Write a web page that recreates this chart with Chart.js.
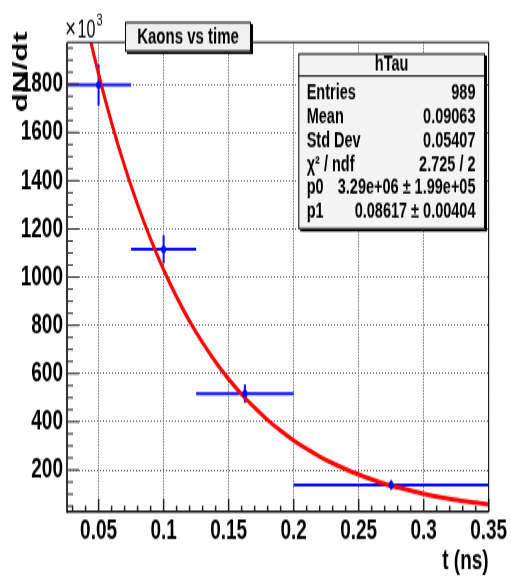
<!DOCTYPE html>
<html><head><meta charset="utf-8">
<script src="https://cdn.jsdelivr.net/npm/chart.js@4"></script>
<style>
html,body{margin:0;padding:0;background:#fff;overflow:hidden;}
#wrap{position:absolute;left:0;top:0;width:511px;height:387px;transform:scaleY(1.50129);transform-origin:0 0;}
canvas{display:block;width:511px;height:387px;}
</style></head><body>
<div id="wrap"><canvas id="c" width="511" height="387"></canvas></div>
<script>
// histogram hTau (dN/dt in units of 10^3)
const binCenters = [0.05, 0.1, 0.1625, 0.275];
const binLow     = [0.025, 0.075, 0.125, 0.2];
const binHigh    = [0.075, 0.125, 0.2, 0.35];
const counts     = [1797, 1115, 517, 138];
const countErr   = [85, 58, 38, 20];
// fitted exponential curve
const fitT = [0.04,0.05,0.06,0.07,0.08,0.09,0.10,0.11,0.12,0.13,0.14,0.15,0.16,0.17,0.18,0.19,0.20,0.21,0.22,0.23,0.24,0.25,0.26,0.27,0.28,0.29,0.30,0.31,0.32,0.33,0.34,0.35];
const fitY = [2068,1842,1640,1460,1300,1158,1031,918,817,728,648,577,514,458,407,363,323,288,256,228,203,181,161,143,128,114,101,90,80,71,64,57];
// axes
const xTicks = [0.05,0.1,0.15,0.2,0.25,0.3,0.35];
const xTickLabels = ['0.05','0.1','0.15','0.2','0.25','0.3','0.35'];
const yTicks = [200,400,600,800,1000,1200,1400,1600,1800];
const yTickLabels = ['200','400','600','800','1000','1200','1400','1600','1800'];
const xTitle = 't (ns)';
const yTitle = 'dN/dt';
// texts
const chartTitle = 'Kaons vs time';
const statsTitle = 'hTau';
const statsLabels = ['Entries','Mean','Std Dev','\u03c7\u00b2 / ndf','p0','p1'];
const statsValues = ['989','0.09063','0.05407','2.725 / 2','3.29e+06 \u00b1 1.99e+05','0.08617 \u00b1 0.00404'];

const FAM = '"Liberation Sans", Arial, Helvetica, sans-serif';
const BLUE = '#0a0aff';

const rootDecor = {
  id: 'rootDecor',
  beforeDatasetsDraw(chart) {
    const {ctx, chartArea: a, scales: {x, y}} = chart;
    ctx.save();
    ctx.beginPath(); ctx.rect(a.left, a.top, a.right - a.left, a.bottom - a.top); ctx.clip();
    ctx.strokeStyle = BLUE; ctx.lineWidth = 2;
    for (let i = 0; i < binCenters.length; i++) {
      const px = x.getPixelForValue(binCenters[i]);
      const py = y.getPixelForValue(counts[i]);
      ctx.beginPath();
      ctx.moveTo(x.getPixelForValue(binLow[i]), py);
      ctx.lineTo(x.getPixelForValue(binHigh[i]), py);
      ctx.moveTo(px, y.getPixelForValue(counts[i] + countErr[i]));
      ctx.lineTo(px, y.getPixelForValue(counts[i] - countErr[i]));
      ctx.stroke();
    }
    ctx.restore();
  },
  afterDraw(chart) {
    const {ctx, chartArea: a, scales: {x, y}} = chart;
    ctx.save();
    // inner tick marks
    ctx.strokeStyle = '#222';
    ctx.lineWidth = 1;
    for (let v = 50; v <= 1950; v += 50) {
      const py = y.getPixelForValue(v);
      if (py < a.top || py > a.bottom) continue;
      const len = (v % 200 === 0) ? 12 : 6;
      ctx.beginPath(); ctx.moveTo(a.left, py); ctx.lineTo(a.left + len, py); ctx.stroke();
    }
    ctx.lineWidth = 1.5;
    for (let k = 3; k <= 35; k++) {
      const px = x.getPixelForValue(k / 100);
      if (px < a.left || px > a.right) continue;
      const len = (k % 5 === 0) ? 8.5 : 4;
      ctx.beginPath(); ctx.moveTo(px, a.bottom); ctx.lineTo(px, a.bottom - len); ctx.stroke();
    }
    // frame
    ctx.strokeStyle = '#000';
    ctx.lineWidth = 1;
    ctx.beginPath(); ctx.moveTo(a.left, a.top); ctx.lineTo(a.right, a.top); ctx.lineTo(a.right, a.bottom); ctx.stroke();
    ctx.strokeStyle = '#333';
    ctx.lineWidth = 2;
    ctx.beginPath(); ctx.moveTo(a.left, a.top); ctx.lineTo(a.left, a.bottom + 0.7); ctx.stroke();
    ctx.strokeStyle = '#111';
    ctx.lineWidth = 1.4;
    ctx.beginPath(); ctx.moveTo(a.left, a.bottom); ctx.lineTo(a.right, a.bottom); ctx.stroke();

    // y axis title (ROOT style: right-adjusted at top)
    ctx.save();
    ctx.translate(26.5, 21.1);
    ctx.rotate(-Math.PI / 2);
    ctx.fillStyle = '#000';
    ctx.font = 'bold 21px ' + FAM;
    ctx.textAlign = 'right'; ctx.textBaseline = 'alphabetic';
    ctx.fillText(yTitle, 0, 0);
    ctx.restore();

    // title box
    const tb = {x: 125, y: 14.5, w: 126, h: 20};
    ctx.fillStyle = '#000';
    ctx.fillRect(tb.x + 2, tb.y + 1.5, tb.w, tb.h);
    ctx.fillStyle = '#f0f0f0';
    ctx.fillRect(tb.x, tb.y, tb.w, tb.h);
    ctx.strokeStyle = '#000'; ctx.lineWidth = 1;
    ctx.strokeRect(tb.x + 0.5, tb.y + 0.5, tb.w - 1, tb.h - 1);
    ctx.fillStyle = '#000';
    ctx.font = 'bold 15px ' + FAM;
    ctx.textAlign = 'center'; ctx.textBaseline = 'middle';
    ctx.fillText(chartTitle, tb.x + tb.w / 2, tb.y + tb.h / 2 + 0.5);

    // stats box
    const sb = {x: 298.3, y: 35.5, w: 186.7, h: 117.2};
    ctx.fillStyle = '#000';
    ctx.fillRect(sb.x + 2, sb.y + 1.5, sb.w, sb.h);
    ctx.fillStyle = '#f4f4f4';
    ctx.fillRect(sb.x, sb.y, sb.w, sb.h);
    ctx.strokeStyle = '#000'; ctx.lineWidth = 1;
    ctx.strokeRect(sb.x + 0.5, sb.y + 0.5, sb.w - 1, sb.h - 1);
    ctx.beginPath(); ctx.moveTo(sb.x, 50.6); ctx.lineTo(sb.x + sb.w, 50.6); ctx.stroke();
    ctx.fillStyle = '#000';
    ctx.font = 'bold 14.5px ' + FAM;
    ctx.textAlign = 'center';
    ctx.fillText(statsTitle, sb.x + sb.w / 2, 42.6);
    for (let i = 0; i < statsLabels.length; i++) {
      const ry = 62.4 + i * 15.76;
      ctx.textAlign = 'left';
      ctx.fillText(statsLabels[i], 306.7, ry);
      ctx.textAlign = 'right';
      ctx.fillText(statsValues[i], 475.5, ry);
    }

    // exponent label
    ctx.textAlign = 'left'; ctx.textBaseline = 'alphabetic';
    ctx.font = '19px ' + FAM;
    ctx.fillText('\u00d7', 65, 24.8);
    let w = ctx.measureText('\u00d7').width + 1.5;
    ctx.font = '16px ' + FAM;
    ctx.fillText('10', 65 + w, 24.8);
    w += ctx.measureText('10').width;
    ctx.font = '11px ' + FAM;
    ctx.fillText('3', 65 + w + 1, 16.7);
    ctx.restore();
  }
};

const tickFont = {family: FAM, size: 19, weight: 'bold'};

new Chart(document.getElementById('c'), {
  data: {
    datasets: [
      {
        type: 'scatter', label: statsTitle,
        data: binCenters.map((c, i) => ({x: c, y: counts[i]})),
        backgroundColor: BLUE, borderColor: BLUE, pointRadius: 2.6, pointBorderWidth: 0,
        order: 0
      },
      {
        type: 'line', label: 'fit',
        data: fitT.map((t, i) => ({x: t, y: fitY[i]})),
        borderColor: '#ff0000', borderWidth: 3, pointRadius: 0, fill: false,
        cubicInterpolationMode: 'monotone',
        order: 1
      }
    ]
  },
  options: {
    responsive: false,
    animation: false,
    events: [],
    layout: {padding: {left: 0, right: 22.3, top: 28.2, bottom: 0}},
    plugins: {legend: {display: false}, tooltip: {enabled: false}, title: {display: false}},
    scales: {
      x: {
        type: 'linear', position: 'bottom', min: 0.0257, max: 0.35,
        afterBuildTicks: s => { s.ticks = xTicks.map(v => ({value: v})); },
        afterFit: s => { s.height = 46.2; },
        grid: {color: '#555', lineWidth: 1, drawTicks: false},
        border: {display: false, dash: [1, 1]},
        ticks: {callback: (v, i) => xTickLabels[i], font: tickFont, color: '#000', padding: 2, maxRotation: 0, autoSkip: false},
        title: {display: true, text: xTitle, align: 'end', color: '#000', font: tickFont, padding: {top: 0, bottom: 2}}
      },
      y: {
        type: 'linear', position: 'left', min: 27, max: 1974,
        afterBuildTicks: s => { s.ticks = yTicks.map(v => ({value: v})); },
        afterFit: s => { s.width = 67; },
        grid: {color: '#555', lineWidth: 1, drawTicks: false},
        border: {display: false, dash: [1, 2]},
        ticks: {callback: (v, i) => yTickLabels[i], font: tickFont, color: '#000', padding: 4, autoSkip: false},
        title: {display: false}
      }
    }
  },
  plugins: [rootDecor]
});
</script>
</body></html>
